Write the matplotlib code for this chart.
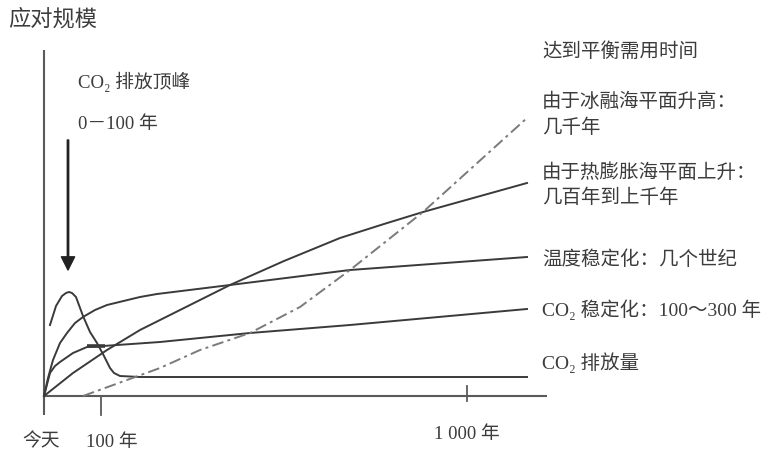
import matplotlib

matplotlib.use('Agg')

import matplotlib.pyplot as plt

plt.rcParams['font.family'] = ['Liberation Serif', 'Noto Sans CJK SC', 'DejaVu Sans']

# 曲线数据（横轴: 距今时间刻度单位, 纵轴: 应对规模）
co2_emit_x = [6, 12, 18, 22, 25, 28, 32, 39, 46, 53, 60, 66, 70, 76, 86, 96, 483]
co2_emit_y = [71, 90, 100, 103, 104, 103, 99, 80, 64, 53, 40, 28, 23, 20, 19.5, 19, 19]

co2_stab_x = [0, 6, 11, 16, 29, 43, 59, 116, 206, 306, 483]
co2_stab_y = [0, 23, 30, 34, 43, 49, 50, 54, 63, 71, 87]

temp_x = [0, 4, 9, 16, 23, 31, 39, 51, 63, 96, 113, 186, 306, 483]
temp_y = [0, 18, 36, 53, 63, 73, 79, 86, 91, 99, 102, 111, 126, 139]

thermal_x = [0, 29, 63, 96, 116, 150, 186, 240, 296, 340, 379, 483]
thermal_y = [0, 23, 46, 66, 76, 93, 111, 135, 158, 172, 184, 213]

ice_x = [39, 116, 156, 206, 256, 306, 379, 483]
ice_y = [0, 28, 46, 63, 89, 126, 184, 278]

tick_pos = [57, 423]
tick_labels = ['100 年', '1 000 年']

right_labels = ['达到平衡需用时间',
                '由于冰融海平面升高：', '几千年',
                '由于热膨胀海平面上升：', '几百年到上千年',
                '温度稳定化：几个世纪',
                'CO₂ 稳定化：100～300 年',
                'CO₂ 排放量']
right_label_y = [344, 294, 268, 223, 198, 136, 86, 33]

line_c = '#3a3a3a'
text_c = '#3c3c3c'
axis_c = '#5a5a5a'

fig = plt.figure(figsize=(7.62, 4.54), dpi=100)
ax = fig.add_axes([0, 0, 1, 1])
ax.set_xlim(-44, 718)
ax.set_ylim(-58, 396)
ax.axis('off')

# 坐标轴
ax.plot([0, 0], [-19, 346], color=axis_c, lw=1.5, solid_capstyle='butt')
ax.plot([0, 503], [0, 0], color=axis_c, lw=1.5, solid_capstyle='butt')
ax.plot([tick_pos[0], tick_pos[0]], [0, -19], color=axis_c, lw=1.3)
ax.plot([tick_pos[1], tick_pos[1]], [10, -5], color=axis_c, lw=1.3)

# 曲线
ax.plot(co2_emit_x, co2_emit_y, color=line_c, lw=1.4)
ax.plot(co2_stab_x, co2_stab_y, color=line_c, lw=1.4)
ax.plot([43, 61], [50, 50], color=line_c, lw=2.6, solid_capstyle='butt')
ax.plot(temp_x, temp_y, color=line_c, lw=1.4)
ax.plot(thermal_x, thermal_y, color=line_c, lw=1.4)
ax.plot(ice_x, ice_y, color='#7a7a7a', lw=1.4, linestyle=(0, (6, 2.2, 1.5, 2.2)))

# 排放顶峰箭头
ax.annotate('', xy=(24, 126), xytext=(24, 256),
            arrowprops=dict(width=1.0, headwidth=9.5, headlength=9.5,
                            shrink=0, color='#222222'))

ax.text(-36, 376, '应对规模', fontsize=16, color=text_c, ha='left', va='center')
ax.text(34, 314, 'CO₂ 排放顶峰', fontsize=13.5, color=text_c, ha='left', va='center')
ax.text(34, 271, '0－100 年', fontsize=13.5, color=text_c, ha='left', va='center')

for lab, yy in zip(right_labels, right_label_y):
    ax.text(498, yy, lab, fontsize=14, color=text_c, ha='left', va='center')

ax.text(-3, -46, '今天', fontsize=13.5, color=text_c, ha='center', va='center')
ax.text(68, -46, tick_labels[0], fontsize=13.5, color=text_c, ha='center', va='center')
ax.text(tick_pos[1], -39, tick_labels[1], fontsize=13.5, color=text_c, ha='center', va='center')

fig.savefig('out.png', dpi=100)
